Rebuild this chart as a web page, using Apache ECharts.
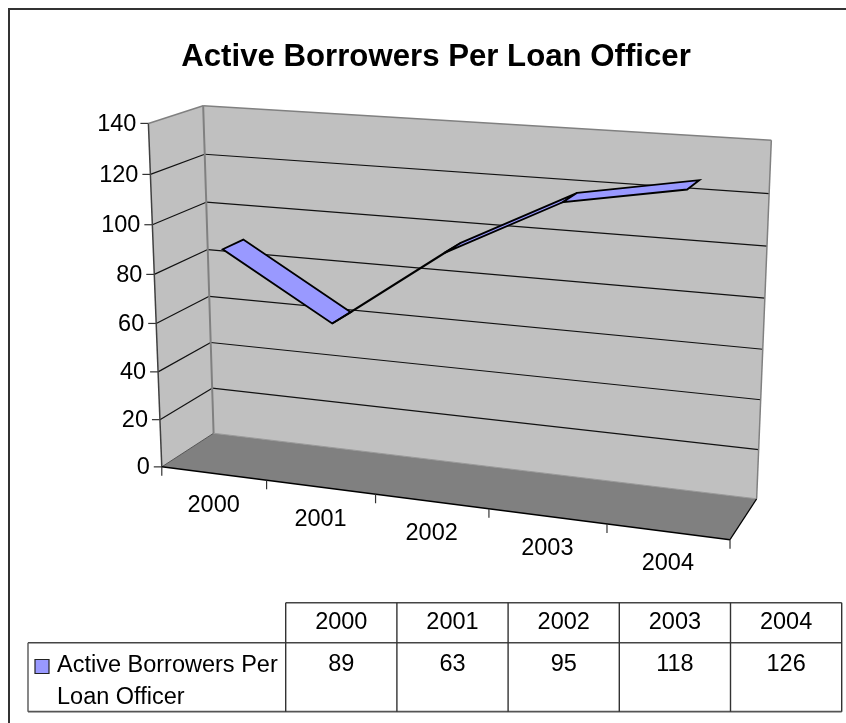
<!DOCTYPE html>
<html>
<head>
<meta charset="utf-8">
<style>html,body{margin:0;padding:0;background:#fff}#chart{width:846px;height:723px}</style>
<script src="https://cdn.jsdelivr.net/npm/echarts@6/dist/echarts.min.js"></script>
</head>
<body>
<div id="chart"></div>
<script>
const chartTitle = 'Active Borrowers Per Loan Officer';
const seriesName = 'Active Borrowers Per Loan Officer';
const years = ['2000', '2001', '2002', '2003', '2004'];
const borrowers = [89, 63, 95, 118, 126];
const valueTicks = [0, 20, 40, 60, 80, 100, 120, 140];
const legendLines = ['Active Borrowers Per', 'Loan Officer'];

const FONT = '"Liberation Sans", Arial, sans-serif';
const AXIS_MAX = 140;
const RIBBON_NEAR = 0.3, RIBBON_FAR = 0.7;   // ribbon extent along the depth axis
const GRID = { left: 160, top: 120, width: 560, height: 340 };   // plot rectangle before projection

// Calibration of the oblique view: [u, v, w] of the plot box -> screen pixel.
const calibration = [
  [0, 0, 0, 160.7, 466.7], [1, 0, 0, 729.3, 540],
  [0, 1, 0, 148.3, 123.3],
  [0, 0, 1, 214, 433.3],   [1, 0, 1, 756.7, 498.7],
  [0, 1, 1, 202.7, 106],   [1, 1, 1, 771.3, 140],
  [0.2, 0, 0, 266.7, 479.5], [0.4, 0, 0, 375.7, 494.5], [0.8, 0, 0, 607.7, 524],
  [0, 60/140, 0, 156.5, 324.3], [0, 100/140, 0, 153, 224.3]
];

// Least-squares direct linear transform giving a 3x4 projective camera.
function solveCamera(pts) {
  const A = Array.from({ length: 11 }, () => new Array(12).fill(0));
  const add = (row, rhs) => {
    for (let i = 0; i < 11; i++) {
      for (let j = 0; j < 11; j++) A[i][j] += row[i] * row[j];
      A[i][11] += row[i] * rhs;
    }
  };
  pts.forEach(([u, v, w, x, y]) => {
    const X = x / 1000, Y = y / 1000;
    add([u, v, w, 1, 0, 0, 0, 0, -X * u, -X * v, -X * w], X);
    add([0, 0, 0, 0, u, v, w, 1, -Y * u, -Y * v, -Y * w], Y);
  });
  for (let c = 0; c < 11; c++) {
    let p = c;
    for (let r = c + 1; r < 11; r++) if (Math.abs(A[r][c]) > Math.abs(A[p][c])) p = r;
    [A[c], A[p]] = [A[p], A[c]];
    for (let r = 0; r < 11; r++) {
      if (r === c) continue;
      const f = A[r][c] / A[c][c];
      for (let k = c; k < 12; k++) A[r][k] -= f * A[c][k];
    }
  }
  return A.map((row, i) => row[11] / row[i]);
}
const cam = solveCamera(calibration);
function project(u, v, w) {
  const d = cam[8] * u + cam[9] * v + cam[10] * w + 1;
  return [
    1000 * (cam[0] * u + cam[1] * v + cam[2] * w + cam[3]) / d,
    1000 * (cam[4] * u + cam[5] * v + cam[6] * w + cam[7]) / d
  ];
}

// Turn a position on the hidden cartesian axes into a point of the drawn box.
function boxPoint(api, cat, value, w) {
  const p = api.coord([cat, value]);
  return project((p[0] - GRID.left) / GRID.width, 1 - (p[1] - GRID.top) / GRID.height, w);
}

const line = (a, b, stroke, lineWidth) => ({
  type: 'line', shape: { x1: a[0], y1: a[1], x2: b[0], y2: b[1] },
  style: { stroke, lineWidth }, silent: true
});
const poly = (points, fill, stroke, lineWidth) => ({
  type: 'polygon', shape: { points },
  style: { fill, stroke: stroke || null, lineWidth: lineWidth || 0, lineJoin: 'miter' }, silent: true
});
const label = (text, x, y, align, fontSize, fontWeight) => ({
  type: 'text', x, y, silent: true,
  style: { text, fontFamily: FONT, fontSize, fontWeight: fontWeight || 'normal', fill: '#000', align, verticalAlign: 'middle' }
});

// Walls, floor, gridlines, ticks and axis labels of the box.
function renderBox(params, api) {
  if (params.dataIndex !== 0) return { type: 'group', children: [] };
  const c = [];
  const P = project;
  c.push(poly([P(0,0,0), P(0,1,0), P(0,1,1), P(0,0,1)], '#c0c0c0'));
  c.push(poly([P(0,0,1), P(0,1,1), P(1,1,1), P(1,0,1)], '#c0c0c0'));
  c.push(poly([P(0,0,0), P(0,0,1), P(1,0,1), P(1,0,0)], '#808080'));
  valueTicks.forEach(t => {
    const v = t / AXIS_MAX;
    const a = P(0, v, 0), b = P(0, v, 1), d = P(1, v, 1);
    if (t > 0 && t < AXIS_MAX) {
      c.push(line(a, b, '#111', 1.2), line(b, d, '#111', 1.2));
    }
    c.push(line([a[0] - 8, a[1]], a, '#333', 1.2));
    c.push(label(String(t), a[0] - 12, a[1] + 1, 'right', 23.5));
  });
  // wall outlines
  c.push(line(P(0,1,0), P(0,1,1), '#808080', 1.5), line(P(0,1,1), P(1,1,1), '#808080', 1.5));
  c.push(line(P(1,1,1), P(1,0,1), '#808080', 1.5), line(P(0,1,1), P(0,0,1), '#808080', 2));
  c.push(line(P(0,0,0), P(0,1,0), '#404040', 1.5));
  c.push(line(P(0,0,0), P(0,0,1), '#555', 1), line(P(0,0,1), P(1,0,1), '#999', 1));
  c.push(line(P(1,0,0), P(1,0,1), '#000', 1.2));
  c.push(line(P(0,0,0), P(1,0,0), '#000', 1.5));
  for (let i = 0; i <= years.length; i++) {
    const a = P(i / years.length, 0, 0);
    c.push(line(a, [a[0], a[1] + 9], '#333', 1.2));
  }
  years.forEach((y, i) => {
    const a = P((i + 0.5) / years.length, 0, 0);
    c.push(label(y, a[0], a[1] + 32, 'center', 23.5));
  });
  return { type: 'group', children: c };
}

// One ribbon segment between neighbouring years.
function renderRibbon(params, api) {
  const i = params.dataIndex;
  if (i >= borrowers.length - 1) return { type: 'group', children: [] };
  const a = boxPoint(api, i, api.value(1), RIBBON_NEAR);
  const b = boxPoint(api, i, api.value(1), RIBBON_FAR);
  const d = boxPoint(api, i + 1, borrowers[i + 1], RIBBON_NEAR);
  const e = boxPoint(api, i + 1, borrowers[i + 1], RIBBON_FAR);
  return poly([a, b, e, d], '#9999ff', '#000', 1.8);
}

// Data table below the plot, with the legend key in its row header.
const tableX0 = 285.7, tableX1 = 841.7, tableY = [602.7, 642.7, 711.7], legendX = 28;
function tableGraphics() {
  const g = [];
  const colW = (tableX1 - tableX0) / years.length;
  const rule = (x1, y1, x2, y2, stroke, lineWidth) => ({ type: 'line', shape: { x1, y1, x2, y2 }, style: { stroke, lineWidth } });
  const text = (t, x, y, align) => ({ type: 'text', x, y, style: { text: t, fontFamily: FONT, fontSize: 23.5, fill: '#000', align, verticalAlign: 'middle' } });
  g.push(rule(tableX0, tableY[0], tableX1, tableY[0], '#444', 1.4));
  g.push(rule(legendX, tableY[1], tableX1, tableY[1], '#444', 1.4));
  g.push(rule(legendX, tableY[2], tableX1, tableY[2], '#555', 1.8));
  g.push(rule(legendX, tableY[1], legendX, tableY[2], '#555', 1.4));
  for (let i = 0; i <= years.length; i++) {
    const x = tableX0 + i * colW;
    g.push(rule(x, tableY[0], x, tableY[2], '#333', 1.4));
  }
  years.forEach((y, i) => {
    const cx = tableX0 + (i + 0.5) * colW;
    g.push(text(y, cx, tableY[0] + 20, 'center'));
    g.push(text(String(borrowers[i]), cx, tableY[1] + 22, 'center'));
  });
  g.push({ type: 'rect', shape: { x: 35, y: 659.5, width: 14, height: 14 }, style: { fill: '#9999ff', stroke: '#222', lineWidth: 1.2 } });
  legendLines.forEach((t, i) => g.push(text(t, 57, tableY[1] + 23 + i * 32, 'left')));
  // outer chart frame: its right and bottom sides lie past the page edge
  g.unshift({ type: 'rect', shape: { x: 9, y: 9, width: 860, height: 740 }, style: { fill: 'none', stroke: '#333', lineWidth: 2 } });
  return g;
}

const chart = echarts.init(document.getElementById('chart'), null, { renderer: 'canvas' });
chart.setOption({
  animation: false,
  backgroundColor: '#fff',
  title: {
    text: chartTitle, left: 431, top: 37, textAlign: 'center',
    textStyle: { fontFamily: FONT, fontSize: 31.2, fontWeight: 'bold', color: '#000' }
  },
  grid: GRID,
  xAxis: { type: 'category', data: years, show: false },
  yAxis: { type: 'value', min: 0, max: AXIS_MAX, interval: 20, show: false },
  graphic: tableGraphics(),
  series: [
    { type: 'custom', name: 'box', renderItem: renderBox, data: [[0, 0]], silent: true, z: 1, clip: false },
    { type: 'custom', name: seriesName, renderItem: renderRibbon, data: borrowers.map((v, i) => [i, v]), encode: { x: 0, y: 1 }, silent: true, z: 2, clip: false }
  ]
});
</script>
</body>
</html>
